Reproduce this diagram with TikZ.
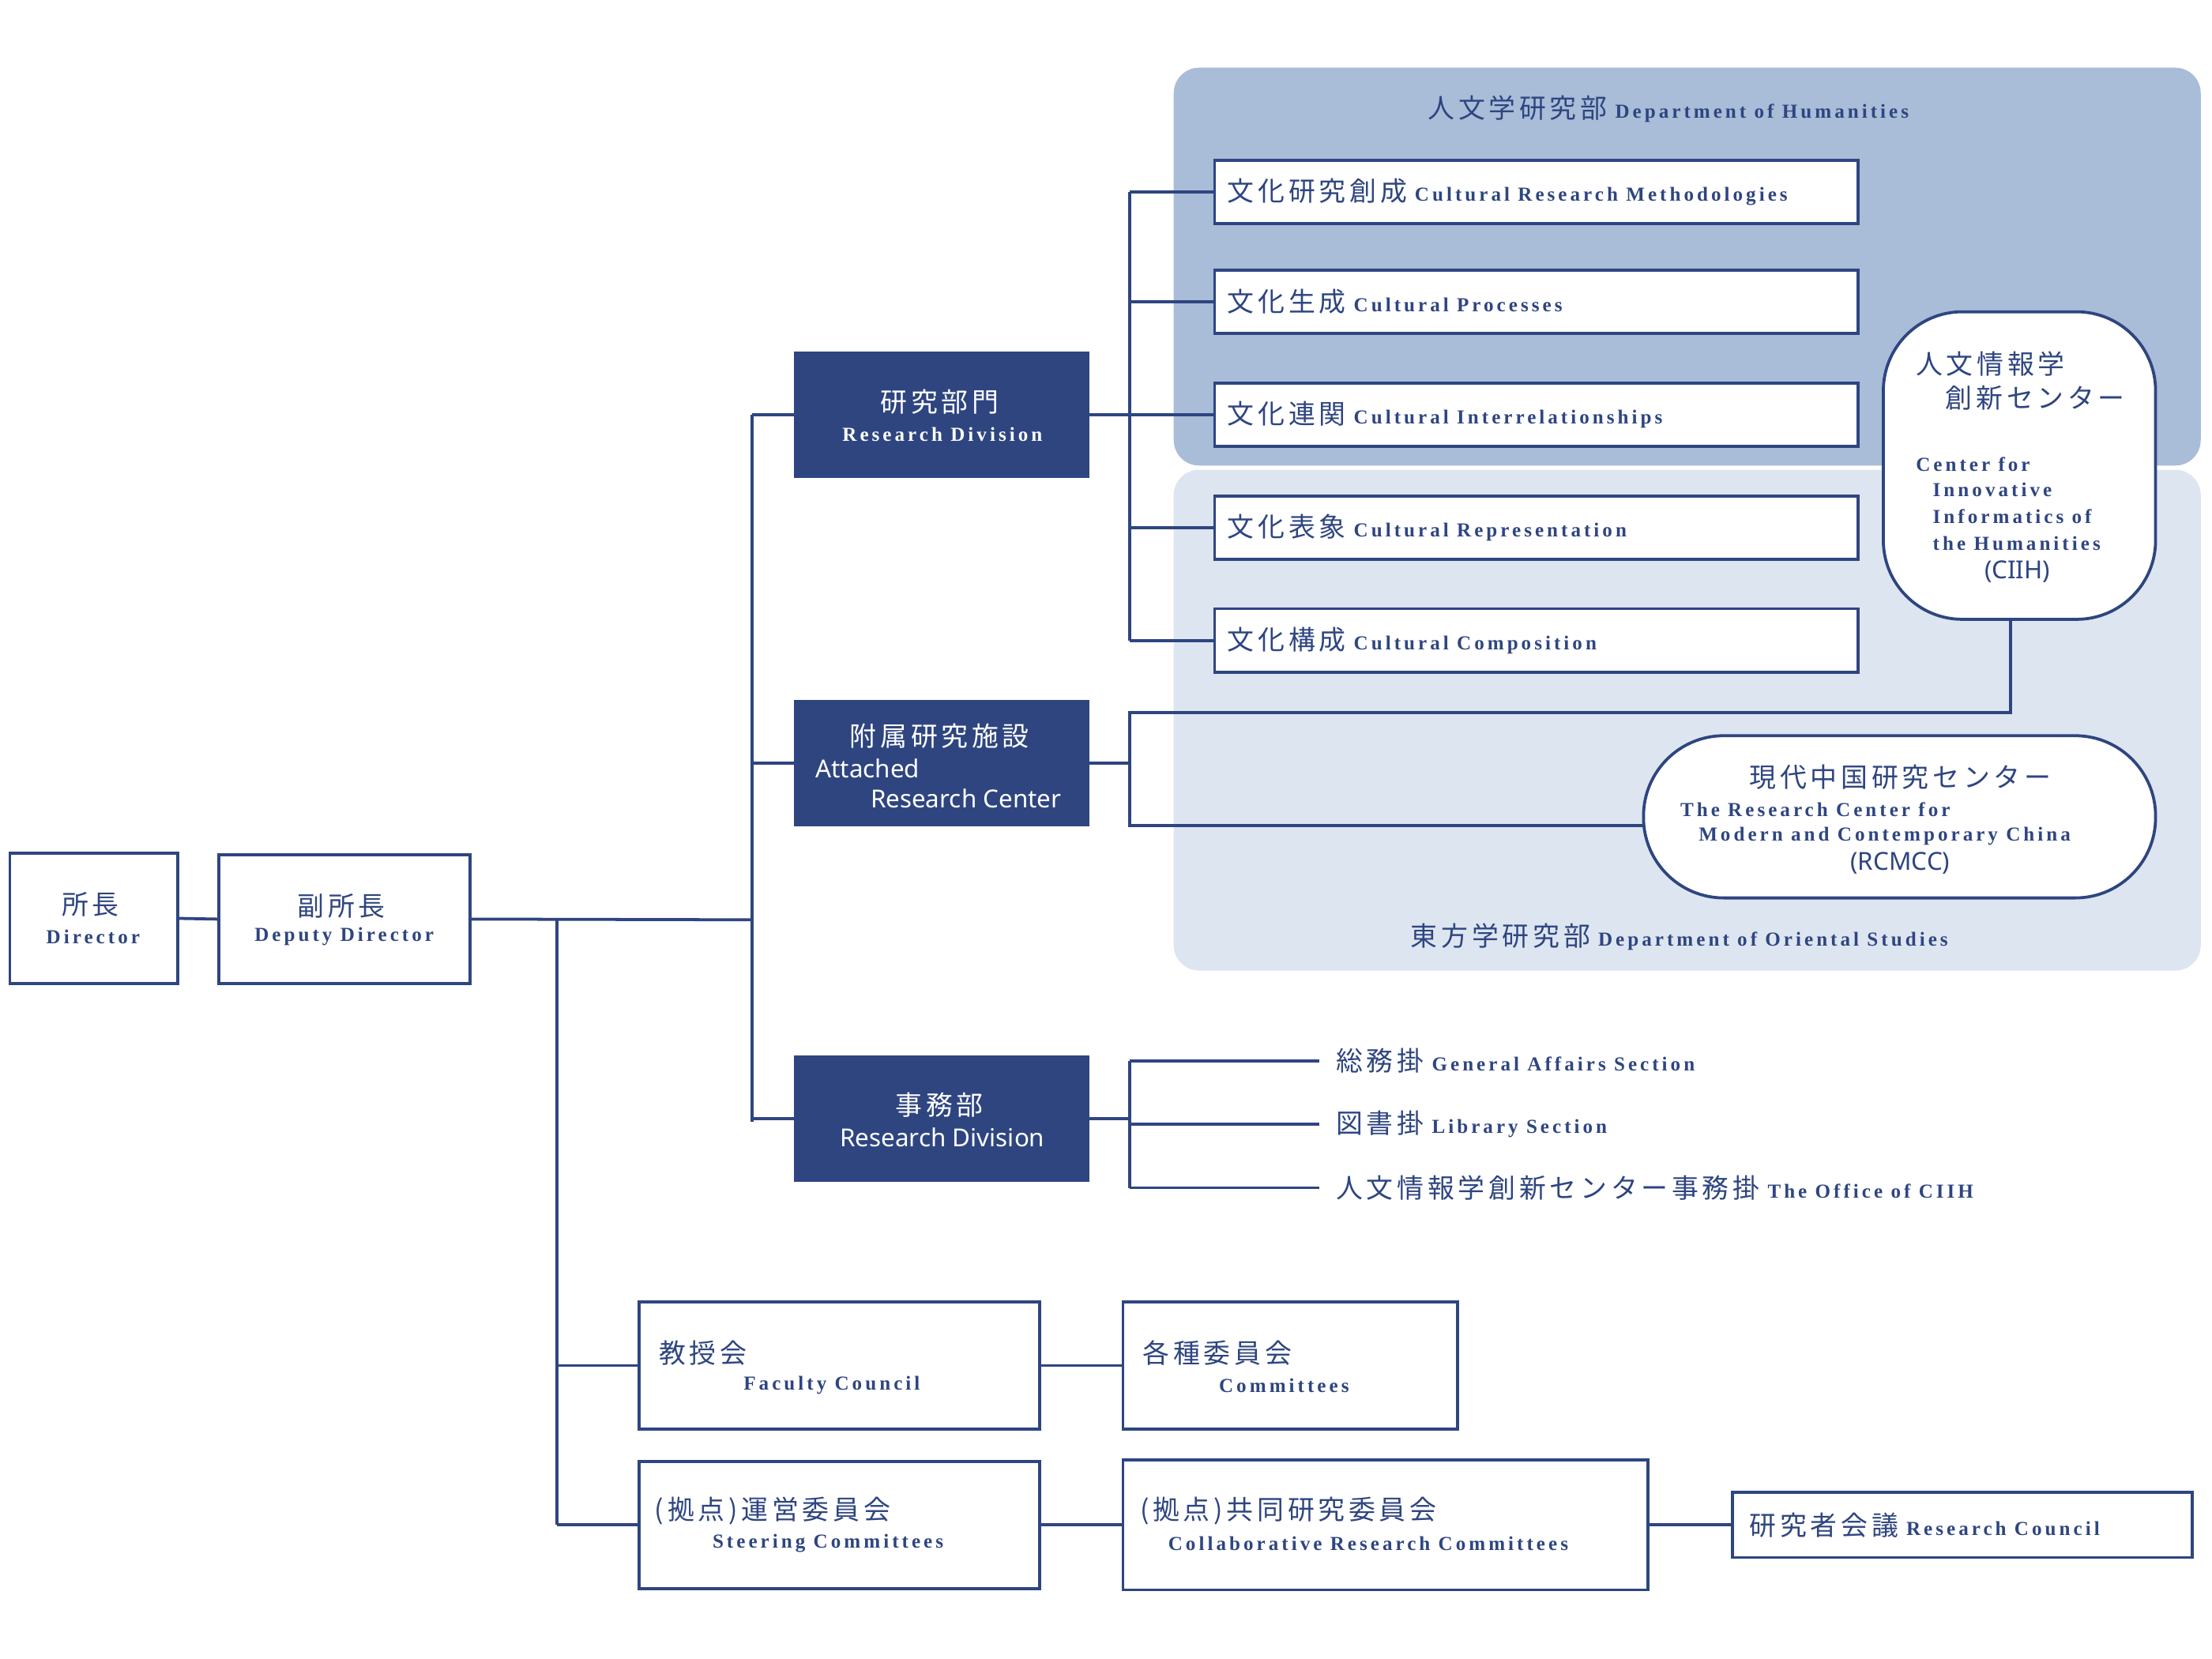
\documentclass[tikz,border=0pt]{standalone}
\usepackage{fontspec}
\newfontfamily\jp{Noto Sans CJK JP}[LetterSpace=14]
\newfontfamily\en{Liberation Serif}[LetterSpace=16]
\newfontfamily\sn{Noto Sans}
\definecolor{navy}{HTML}{2E4580}
\definecolor{topbg}{HTML}{A9BCD8}
\definecolor{lowbg}{HTML}{DDE5F0}
\newcommand{\JJ}[1]{{\jp\fontsize{27}{30}\selectfont #1}}
\newcommand{\EE}[1]{{\en\fontsize{20}{24}\selectfont\bfseries #1}}
\newcommand{\SNS}[1]{{\sn\fontsize{25}{30}\selectfont #1}}
\begin{document}
\begin{tikzpicture}[x=0.05cm,y=-0.05cm,
  ln/.style={draw=navy,line width=3pt},
  wbox/.style={draw=navy,line width=3pt,fill=white,inner sep=0pt},
  dbox/.style={fill=navy,inner sep=0pt},
  lab/.style={anchor=west,inner sep=0pt,text=navy},
  wl/.style={inner sep=0pt,text=white}]
\useasboundingbox (0,0) rectangle (1568,1176);
% background regions
\fill[lowbg,rounded corners=0.9cm] (832,333) rectangle (1560,688);
\fill[topbg,rounded corners=0.9cm] (832,48) rectangle (1560,330);
\node[lab] at (1012,77) {\JJ{人文学研究部}\hspace{0.8em}\EE{Department of Humanities}};
\node[lab] at (1000,664) {\JJ{東方学研究部}\hspace{0.8em}\EE{Department of Oriental Studies}};
% left boxes
\node[wbox,minimum width=119*0.05cm,minimum height=92*0.05cm] (dir) at (66.5,651) {};
\node[text=navy] at (64,641) {\JJ{所長}};
\node[text=navy] at (66,664) {\EE{Director}};
\node[wbox,minimum width=178*0.05cm,minimum height=91*0.05cm] (dep) at (244,651.5) {};
\node[text=navy] at (242,642) {\JJ{副所長}};
\node[text=navy] at (244,664) {\EE{Deputy Director}};
\draw[ln] (dir.east) -- (dep.west);
% dark boxes
\node[dbox,minimum width=209*0.05cm,minimum height=90*0.05cm] (rd) at (667.5,294) {};
\node[wl] at (666,285) {\JJ{研究部門}};
\node[wl] at (668,308) {\EE{Research Division}};
\node[dbox,minimum width=209*0.05cm,minimum height=90*0.05cm] (ac) at (667.5,541) {};
\node[wl] at (666,522) {\JJ{附属研究施設}};
\node[wl,anchor=west] at (578,545) {\SNS{Attached}};
\node[wl,anchor=west] at (617,566) {\SNS{Research Center}};
\node[dbox,minimum width=209*0.05cm,minimum height=90*0.05cm] (of) at (667.5,793) {};
\node[wl] at (666,783) {\JJ{事務部}};
\node[wl] at (668,806) {\SNS{Research Division}};
% trunk
\coordinate (t2) at (533,652);
\draw[ln] (dep.east) -- (t2);
\draw[ln] (533,294) -- (533,795);
\draw[ln] (533,294) -- (rd.west);
\draw[ln] (533,541) -- (ac.west);
\draw[ln] (533,793) -- (of.west);
\draw[ln] (395,652) -- (395,1081);
% research units
\draw[ln] (rd.east) -- (801,294);
\draw[ln] (801,136) -- (801,454);
\foreach \n/\y/\j/\e in {u1/136/文化研究創成/Cultural Research Methodologies,u2/214/文化生成/Cultural Processes,u3/294/文化連関/Cultural Interrelationships,u4/374/文化表象/Cultural Representation,u5/454/文化構成/Cultural Composition}{
  \node[wbox,minimum width=456*0.05cm,minimum height=45*0.05cm] (\n) at (1089,\y) {};
  \draw[ln] (801,\y) -- (\n.west);
  \node[lab] at (870,\y) {\JJ{\j}\hspace{0.8em}\EE{\e}};
}
% CIIH
\node[wbox,minimum width=193*0.05cm,minimum height=218*0.05cm,rounded corners=2.8cm] (ciih) at (1431.5,330) {};
\node[lab] at (1358,258) {\JJ{人文情報学}};
\node[lab] at (1379,282) {\JJ{創新センター}};
\node[lab] at (1358,329) {\EE{Center for}};
\node[lab] at (1370,347) {\EE{Innovative}};
\node[lab] at (1370,366) {\EE{Informatics of}};
\node[lab] at (1370,385) {\EE{the Humanities}};
\node[text=navy,inner sep=0pt] at (1430,405) {\SNS{(CIIH)}};
% RCMCC
\node[wbox,minimum width=363*0.05cm,minimum height=115*0.05cm,rounded corners=2.85cm] (rc) at (1346.5,579) {};
\node[text=navy,inner sep=0pt] at (1347,551) {\JJ{現代中国研究センター}};
\node[lab] at (1191,574) {\EE{The Research Center for}};
\node[lab] at (1204,593) {\EE{Modern and Contemporary China}};
\node[text=navy,inner sep=0pt] at (1347,612) {\SNS{(RCMCC)}};
\draw[ln] (ac.east) -- (801,541);
\draw[ln] (ciih.south -| 1425,0) -- (1425,505) -- (801,505) -- (801,585) -- (rc.west |- 0,585);
% office sections
\draw[ln] (of.east) -- (801,793);
\draw[ln] (801,752) -- (801,842);
\foreach \y/\j/\e in {752/総務掛/General Affairs Section,797/図書掛/Library Section,842/人文情報学創新センター事務掛/The Office of CIIH}{
  \coordinate (s\y) at (935,\y);
  \draw[ln] (801,\y) -- (s\y);
  \node[lab] at (947,\y) {\JJ{\j}\hspace{0.8em}\EE{\e}};
}
% councils
\node[wbox,minimum width=284*0.05cm,minimum height=90*0.05cm] (fc) at (595,968) {};
\node[wbox,minimum width=237*0.05cm,minimum height=90*0.05cm] (cm) at (914.5,968) {};
\node[wbox,minimum width=284*0.05cm,minimum height=90*0.05cm] (sc) at (595,1081) {};
\node[wbox,minimum width=372*0.05cm,minimum height=92*0.05cm] (cr) at (982,1081) {};
\node[wbox,minimum width=326*0.05cm,minimum height=46*0.05cm] (rcn) at (1391,1081) {};
\draw[ln] (395,968) -- (fc.west);
\draw[ln] (395,1081) -- (sc.west);
\draw[ln] (fc.east) -- (cm.west);
\draw[ln] (sc.east) -- (cr.west);
\draw[ln] (cr.east) -- (rcn.west);
\node[lab] at (467,959) {\JJ{教授会}};
\node[lab] at (527,982) {\EE{Faculty Council}};
\node[lab] at (810,959) {\JJ{各種委員会}};
\node[lab] at (864,982) {\EE{Committees}};
\node[lab] at (464,1071) {\JJ{(拠点)運営委員会}};
\node[lab] at (505,1094) {\EE{Steering Committees}};
\node[lab] at (808,1071) {\JJ{(拠点)共同研究委員会}};
\node[lab] at (828,1094) {\EE{Collaborative Research Committees}};
\node[lab] at (1240,1081) {\JJ{研究者会議}\hspace{0.8em}\EE{Research Council}};
\end{tikzpicture}
\end{document}
